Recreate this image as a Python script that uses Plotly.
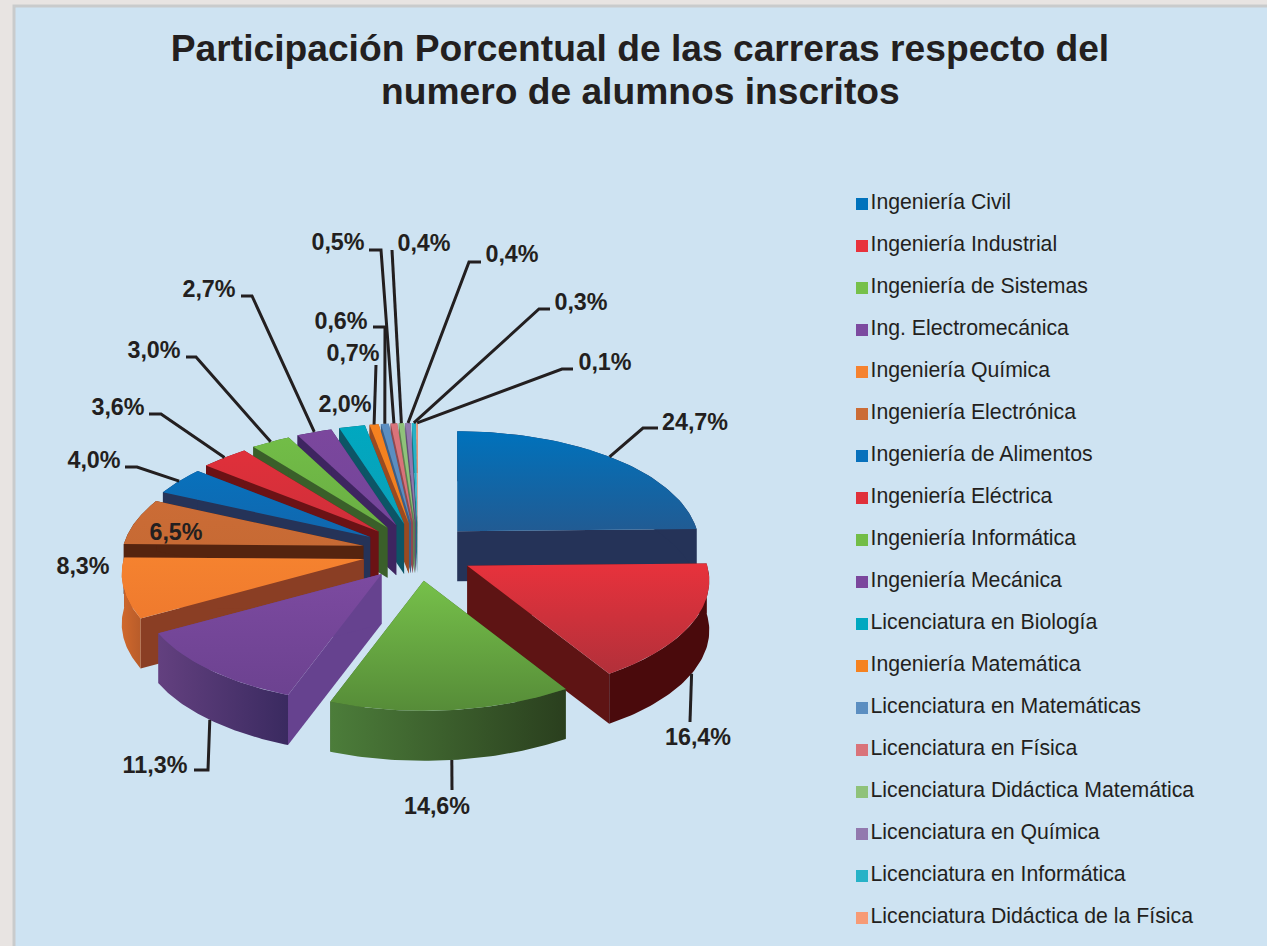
import numpy as np
import plotly.graph_objects as go

# ---- data ----
careers = ["Ingeniería Civil", "Ingeniería Industrial", "Ingeniería de Sistemas", "Ing. Electromecánica",
           "Ingeniería Química", "Ingeniería Electrónica", "Ingeniería de Alimentos", "Ingeniería Eléctrica",
           "Ingeniería Informática", "Ingeniería Mecánica", "Licenciatura en Biología", "Ingeniería Matemática",
           "Licenciatura en Matemáticas", "Licenciatura en Física", "Licenciatura Didáctica Matemática",
           "Licenciatura en Química", "Licenciatura en Informática", "Licenciatura Didáctica de la Física"]
percents = [24.7, 16.4, 14.6, 11.3, 8.3, 6.5, 4.0, 3.6, 3.0, 2.7, 2.0, 0.7, 0.6, 0.5, 0.4, 0.4, 0.3, 0.1]
title_lines = ["Participación Porcentual de las carreras respecto del", "numero de alumnos inscritos"]

# ---- styles ----
top_a = ["#0072BC", "#E8323C", "#76C04A", "#7C4AA0", "#F5822F", "#CB6C36", "#0871BC", "#E0303A", "#72BD47",
         "#7B479D", "#00A8C0", "#F58220", "#5B8EC1", "#D9737A", "#8FC27A", "#9279AE", "#27B2C7", "#F79B76"]
top_b = ["#215B93", "#B2303A", "#568C38", "#6C4290", "#EF7A2E", "#C76A34", "#1167AE", "#CF2F3A", "#6AAE44",
         "#74459A", "#0BA0B8", "#F08020", "#5B8EC1", "#D9737A", "#8FC27A", "#9279AE", "#27B2C7", "#F79B76"]
side = ["#253358", "#5E1414", "#3B5E2B", "#66428F", "#8A3E24", "#55240F", "#253358", "#6B1215", "#3A5F2A",
        "#3E2560", "#0D5566", "#9A4A20", "#3F5F85", "#8F4A50", "#5F8050", "#5F4F75", "#1A7585", "#A56A50"]
arc_a = ["#253358", "#4A0A0C", "#4C7D3A", "#63407F", "#D0682C", "#55240F", "#253358", "#6B1215", "#3A5F2A",
         "#3E2560", "#0D5566", "#9A4A20", "#3F5F85", "#8F4A50", "#5F8050", "#5F4F75", "#1A7585", "#A56A50"]
arc_b = ["#253358", "#4A0A0C", "#2A3F1E", "#3A2A60", "#B85C2A", "#55240F", "#253358", "#6B1215", "#3A5F2A",
         "#3E2560", "#0D5566", "#9A4A20", "#3F5F85", "#8F4A50", "#5F8050", "#5F4F75", "#1A7585", "#A56A50"]
INK = "#231F20"

# ---- projection of the tilted pie, in page pixels ----
CX, CY, PULL_X, PULL_Y = 418, 552, 56, 29
RX, RY, PERSP, DEPTH = 240, 115, 0.13, 50


def rim(t):
    scale = 1 - PERSP * np.cos(t)
    return RX * np.sin(t) * scale, -RY * np.cos(t) * scale


edges = np.cumsum([0] + percents) / sum(percents) * 2 * np.pi
mids = (edges[:-1] + edges[1:]) / 2
apex_x = CX + PULL_X * np.sin(mids)
apex_y = CY - PULL_Y * np.cos(mids)

fig = go.Figure()


def poly(xs, ys, c1, c2=None, kind="vertical"):
    kw = dict(fillcolor=c1) if c2 is None or c1 == c2 else dict(
        fillgradient=dict(type=kind, colorscale=[[0, c1], [1, c2]]))
    fig.add_trace(go.Scatter(x=xs, y=ys, mode="lines", line=dict(width=0, color=c1), fill="toself",
                             hoverinfo="skip", showlegend=False, **kw))


arcs = []
for i in range(len(percents)):
    t = np.linspace(edges[i], edges[i + 1], 60)
    dx, dy = rim(t)
    arcs.append((apex_x[i] + dx, apex_y[i] + dy))

for i in np.argsort(-np.cos(mids)):
    ax, ay = apex_x[i], apex_y[i]
    ox, oy = arcs[i]
    for j in (0, -1):
        poly([ax, ox[j], ox[j], ax], [ay, oy[j], oy[j] + DEPTH, ay + DEPTH], side[i])
    poly(np.r_[ox, ox[::-1]], np.r_[oy, oy[::-1] + DEPTH], arc_a[i], arc_b[i], "horizontal")
    poly(np.r_[ax, ox, ax], np.r_[ay, oy, ay], top_b[i], top_a[i], "vertical")

# ---- value labels and leaders (page layout) ----
label_x = [695, 698, 437, 155, 83, 176, 94, 118, 154, 209, 345, 353, 341, 338, 424, 512, 581, 605]
label_y = [424, 739, 808, 767, 568, 534, 462, 409, 352, 291, 406, 355, 323, 244, 245, 256, 304, 364]
leaders = {0: [(643, 428), (658, 428)], 1: [(690, 722)], 2: [(452, 790)], 3: [(208, 770), (194, 770)],
           6: [(137, 467), (125, 467)], 7: [(161, 414), (149, 414)], 8: [(196, 357), (186, 357)],
           9: [(252, 296), (241, 296)], 11: [(376, 365)], 12: [(385, 327), (373, 327)],
           13: [(381, 250), (369, 250)], 14: [(392, 250)], 15: [(469, 262), (481, 262)],
           16: [(539, 309), (550, 309)], 17: [(562, 369), (573, 369)]}

for i, path in leaders.items():
    dx, dy = rim(mids[i])
    sx = apex_x[i] + dx
    sy = apex_y[i] + dy + (DEPTH if np.cos(mids[i]) < 0 else 0)
    fig.add_trace(go.Scatter(x=[sx] + [p[0] for p in path], y=[sy] + [p[1] for p in path], mode="lines",
                             line=dict(color=INK, width=3), hoverinfo="skip", showlegend=False))

fig.add_trace(go.Scatter(x=label_x, y=label_y, mode="text",
                         text=[f"{p:.1f}%".replace(".", ",") for p in percents], textposition="middle center",
                         textfont=dict(family="Liberation Sans", size=23.3, color=INK, weight="bold"),
                         hoverinfo="skip", showlegend=False))

# ---- key: one row per career on a categorical axis ----
fig.add_trace(go.Scatter(x=[862] * len(careers), y=careers, yaxis="y2", mode="markers+text",
                         marker=dict(symbol="square", size=12, color=top_a), text=careers,
                         textposition="middle right",
                         textfont=dict(family="Liberation Sans", size=21.25, color=INK),
                         hoverinfo="skip", showlegend=False, cliponaxis=False))

fig.update_layout(
    width=1267, height=946, autosize=False, margin=dict(l=0, r=0, t=0, b=0),
    paper_bgcolor="#E8E4E2", plot_bgcolor="rgba(0,0,0,0)", showlegend=False,
    title=dict(text=f"<b>{title_lines[0]}</b>", x=640 / 1267, xanchor="center", xref="paper",
               y=1 - 48 / 946, yanchor="middle", yref="paper",
               font=dict(family="Liberation Sans", size=37.2, color=INK)),
    annotations=[dict(text=f"<b>{title_lines[1]}</b>", x=640, y=91, xref="x", yref="y", showarrow=False,
                      xanchor="center", yanchor="middle",
                      font=dict(family="Liberation Sans", size=37.2, color=INK))],
    xaxis=dict(range=[0, 1267], visible=False, domain=[0, 1], fixedrange=True),
    yaxis=dict(range=[946, 0], visible=False, domain=[0, 1], fixedrange=True),
    # key rows sit 42 px apart
    yaxis2=dict(anchor="x", visible=False, type="category", categoryorder="array",
                categoryarray=careers, range=[17.5, -0.5], domain=[(946 - 939) / 946, (946 - 183) / 946],
                fixedrange=True),
    shapes=[dict(type="rect", xref="x", yref="y", x0=14, y0=6, x1=1275, y1=955, fillcolor="#CEE3F2",
                 line=dict(color="#C9CBCC", width=3), layer="below")],
)
fig.write_html("out.html", config=dict(displayModeBar=False),
               post_script="document.body.style.margin='0';document.body.style.overflow='hidden';")
